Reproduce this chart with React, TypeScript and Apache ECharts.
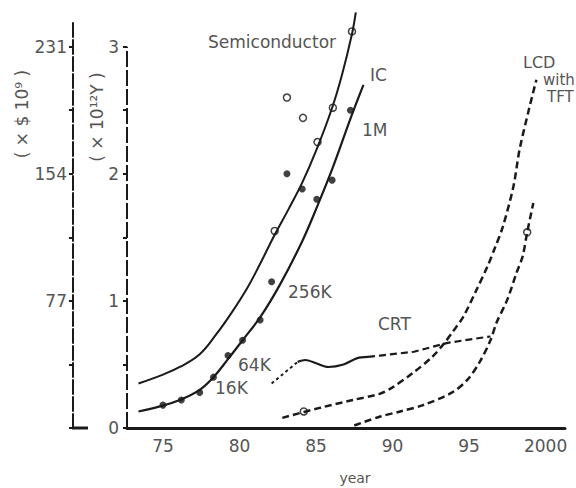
import React, { useEffect, useRef } from "react";
import * as echarts from "echarts";

// ---- data (x: year 19xx, y: value in 10^12 yen; left axis is the same scale x 77 in 10^9 $) ----
const semiYears = [73.4, 75.0, 76.1, 77.4, 78.5, 79.5, 80.5, 81.3, 82.3, 83.2, 84.1, 85.0, 86.0, 86.7, 87.35, 87.6];
const semiValues = [0.35, 0.42, 0.48, 0.58, 0.74, 0.91, 1.1, 1.28, 1.52, 1.72, 1.93, 2.18, 2.5, 2.78, 3.1, 3.27];

const icYears = [73.4, 74.8, 76.1, 77.4, 78.3, 79.3, 80.2, 81.4, 82.7, 84.1, 85.1, 86.1, 87.3, 88.1];
const icValues = [0.13, 0.17, 0.22, 0.3, 0.4, 0.55, 0.69, 0.88, 1.14, 1.47, 1.75, 2.05, 2.45, 2.7];

const crtDottedYears = [82.1, 83.0, 83.8];
const crtDottedValues = [0.35, 0.44, 0.52];
const crtSolidYears = [83.8, 84.3, 85.0, 85.8, 86.8, 87.7, 88.4];
const crtSolidValues = [0.52, 0.535, 0.51, 0.48, 0.5, 0.55, 0.56];
const crtDashedYears = [88.4, 89.2, 91.4, 93.6, 95.8, 96.4];
const crtDashedValues = [0.56, 0.57, 0.6, 0.67, 0.71, 0.72];

const tftYears = [82.8, 85.3, 87.4, 89.2, 90.0, 91.3, 92.6, 93.4, 93.95, 94.6, 95.5, 96.2, 96.7, 97.2, 97.9, 98.3, 98.9, 99.4];
const tftValues = [0.08, 0.16, 0.22, 0.27, 0.32, 0.43, 0.56, 0.67, 0.76, 0.87, 1.09, 1.27, 1.42, 1.58, 1.9, 2.19, 2.5, 2.74];

const lcdYears = [87.5, 89.2, 90.5, 92.0, 93.9, 94.9, 95.7, 96.4, 96.8, 97.5, 98.1, 98.5, 98.8, 99.2];
const lcdValues = [0.02, 0.09, 0.13, 0.18, 0.28, 0.38, 0.52, 0.69, 0.83, 1.01, 1.22, 1.35, 1.54, 1.77];

const filledMarkYears = [75.0, 76.2, 77.4, 78.3, 79.25, 80.2, 81.35, 82.1, 83.1, 84.1, 85.05, 86.05, 87.25];
const filledMarkValues = [0.18, 0.22, 0.28, 0.4, 0.57, 0.69, 0.85, 1.15, 2.0, 1.88, 1.8, 1.95, 2.5];

const openMarkYears = [82.3, 83.1, 84.15, 85.1, 86.1, 87.35, 98.8, 84.2];
const openMarkValues = [1.55, 2.6, 2.44, 2.25, 2.52, 3.12, 1.54, 0.13];

const xTicks = [75, 80, 85, 90, 95, 100];
const yenTicks = [0, 1, 2, 3];
const yenMinor = [0, 0.5, 1, 1.5, 2, 2.5, 3];
const dollarTicks = [77, 154, 231];
const dollarMinor = [0, 38.5, 77, 115.5, 154, 192.5, 231];

const XMIN = 72.65;
const XMAX = 101.27;
const YMAX = 3.21;
const FONT = "DejaVu Sans";
const INK = "#1a1a1a";
const TXT = "#555";

const zip = (a: number[], b: number[]) => a.map((v, i) => [v, b[i]]);

export default function App() {
  const ref = useRef<HTMLDivElement>(null);
  useEffect(() => {
    if (!ref.current) return;
    const chart = echarts.init(ref.current, null, { renderer: "svg" });
    const lineBase = {
      type: "line" as const,
      symbol: "none",
      clip: false,
      silent: true,
    };
    const label = (text: string, x: number, y: number, extra: any = {}) => ({
      type: "text",
      x,
      y,
      style: {
        text,
        fill: TXT,
        fontSize: 17,
        fontFamily: FONT,
        verticalAlign: "middle",
        ...extra,
      },
    });
    chart.setOption({
      animation: false,
      backgroundColor: "#fff",
      grid: { left: 127, right: 11, top: 20, bottom: 60 },
      xAxis: {
        type: "value",
        min: XMIN,
        max: XMAX,
        axisLine: { show: true, lineStyle: { color: INK, width: 3 } },
        axisTick: { show: false },
        splitLine: { show: false },
        axisLabel: {
          customValues: xTicks,
          formatter: (v: number) => (v === 100 ? "2000" : String(v)),
          fontSize: 17,
          color: TXT,
          fontFamily: FONT,
          margin: 9,
        },
      },
      yAxis: [
        {
          type: "value",
          min: 0,
          max: YMAX,
          axisLine: { show: false },
          axisTick: { show: true, customValues: yenMinor, length: 4, lineStyle: { color: INK, width: 2 } },
          splitLine: { show: false },
          axisLabel: {
            customValues: yenTicks,
            fontSize: 17,
            color: TXT,
            fontFamily: FONT,
            margin: 8,
          },
        },
        {
          type: "value",
          min: 0,
          max: YMAX * 77,
          position: "left",
          offset: 54,
          axisLine: { show: true, lineStyle: { color: INK, width: 2, type: [14, 3] } },
          axisTick: { show: true, customValues: dollarMinor, length: 4, lineStyle: { color: INK, width: 2 } },
          splitLine: { show: false },
          axisLabel: {
            customValues: dollarTicks,
            fontSize: 17,
            color: TXT,
            fontFamily: FONT,
            margin: 6,
          },
        },
      ],
      series: [
        {
          ...lineBase,
          name: "Semiconductor",
          data: zip(semiYears, semiValues),
          smooth: 0.4,
          lineStyle: { color: INK, width: 2 },
        },
        {
          ...lineBase,
          name: "IC",
          data: zip(icYears, icValues),
          smooth: 0.4,
          lineStyle: { color: INK, width: 2.2 },
          markLine: {
            silent: true,
            symbol: ["none", "none"],
            label: { show: false },
            lineStyle: { color: INK, width: 2, type: [16, 3] },
            data: [[{ coord: [XMIN, 0] }, { coord: [XMIN, 3] }]],
          },
        },
        {
          ...lineBase,
          name: "CRT dotted",
          data: zip(crtDottedYears, crtDottedValues),
          lineStyle: { color: INK, width: 2, type: [3, 3] },
        },
        {
          ...lineBase,
          name: "CRT",
          data: zip(crtSolidYears, crtSolidValues),
          smooth: 0.3,
          lineStyle: { color: INK, width: 2.2 },
        },
        {
          ...lineBase,
          name: "CRT dashed",
          data: zip(crtDashedYears, crtDashedValues),
          lineStyle: { color: INK, width: 2.2, type: [7, 4] },
        },
        {
          ...lineBase,
          name: "LCD with TFT",
          data: zip(tftYears, tftValues),
          smooth: 0.3,
          lineStyle: { color: INK, width: 2.5, type: [7, 4] },
        },
        {
          ...lineBase,
          name: "LCD",
          data: zip(lcdYears, lcdValues),
          smooth: 0.3,
          lineStyle: { color: INK, width: 2.5, type: [7, 4] },
        },
        {
          type: "scatter",
          name: "filled marks",
          silent: true,
          data: zip(filledMarkYears, filledMarkValues),
          symbol: "circle",
          symbolSize: 7,
          itemStyle: { color: "#111" },
        },
        {
          type: "scatter",
          name: "open marks",
          silent: true,
          data: zip(openMarkYears, openMarkValues),
          symbol: "circle",
          symbolSize: 7,
          itemStyle: { color: "#fff", borderColor: "#111", borderWidth: 1.5 },
        },
      ],
      graphic: [
        { type: "line", shape: { x1: 72, y1: 428, x2: 88, y2: 428 }, style: { stroke: INK, lineWidth: 3 } },
        label("Semiconductor", 208, 42),
        label("IC", 370, 75),
        label("1M", 362, 130),
        label("256K", 288, 292),
        label("64K", 238, 365),
        label("16K", 215, 388),
        label("CRT", 378, 324),
        label("LCD", 523, 62, { fontSize: 16 }),
        label("with", 543, 80, { fontSize: 15 }),
        label("TFT", 547, 97, { fontSize: 15 }),
        label("year", 355, 478, { fontSize: 14, align: "center" }),
        {
          type: "text",
          x: 22,
          y: 114,
          rotation: Math.PI / 2,
          style: {
            text: "( × $ 10⁹ )",
            fill: TXT,
            fontSize: 17,
            fontFamily: FONT,
            align: "center",
            verticalAlign: "middle",
          },
        },
        {
          type: "text",
          x: 97,
          y: 117,
          rotation: Math.PI / 2,
          style: {
            text: "( × 10¹²Y )",
            fill: TXT,
            fontSize: 17,
            fontFamily: FONT,
            align: "center",
            verticalAlign: "middle",
          },
        },
      ],
    });
    return () => chart.dispose();
  }, []);
  return <div ref={ref} style={{ position: "absolute", left: 0, top: 0, width: 576, height: 488 }} />;
}
